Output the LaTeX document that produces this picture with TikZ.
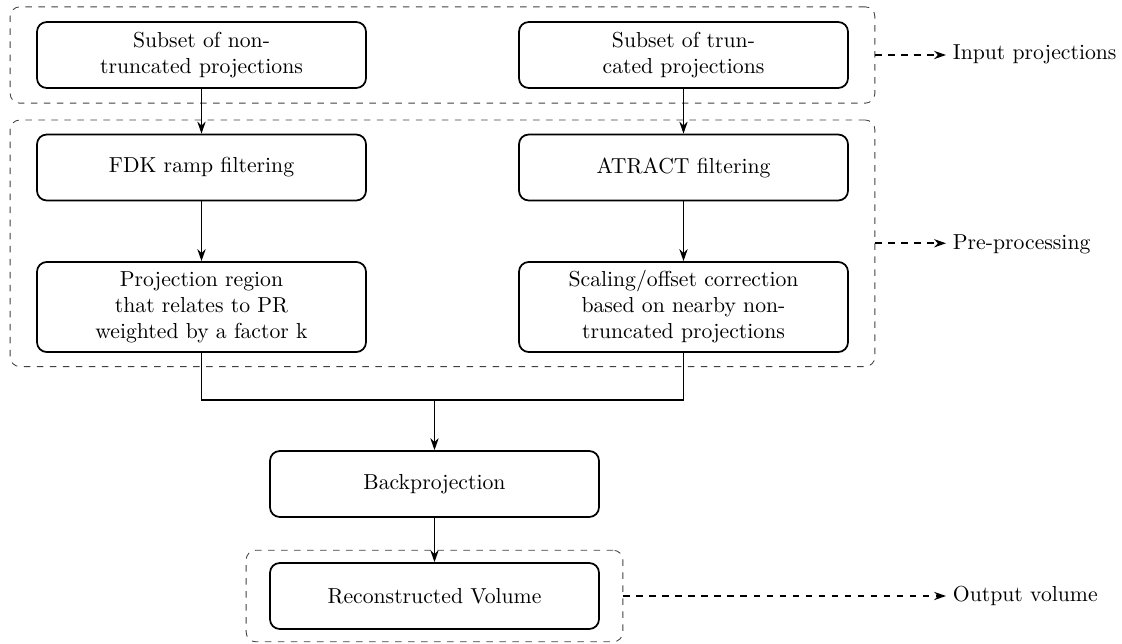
\documentclass[tikz,border=0pt]{standalone}
\usetikzlibrary{arrows.meta,fit,positioning}
\begin{document}
\begin{tikzpicture}[x=0.4608pt,y=-0.4608pt,
  procbox/.style={draw,line width=0.8pt,rounded corners=4.5pt,minimum width=151.6pt,
    minimum height=30.4pt,align=center,inner sep=2pt},
  groupbox/.style={draw,line width=0.4pt,dashed,rounded corners=4.5pt,draw=black!75},
  flow/.style={line width=0.8pt,-{Stealth[length=5.5pt,width=3.8pt]}},
  plainflow/.style={line width=0.8pt},
  labarrow/.style={line width=0.8pt,dashed,-{Stealth[length=5.5pt,width=3.8pt]}},
  lab/.style={anchor=west,inner sep=3pt}]
\useasboundingbox (0,0) rectangle (1122,643);

\node[procbox] (nt) at (201.5,55) {Subset of non-\\truncated projections};
\node[procbox] (tr) at (683.5,55) {Subset of trun-\\cated projections};
\node[procbox] (fdk) at (201.5,167.5) {FDK ramp filtering};
\node[procbox] (atr) at (683.5,167.5) {ATRACT filtering};
\node[procbox,minimum height=41.5pt] (pr) at (201.5,307) {Projection region\\that relates to PR\\weighted by a factor k};
\node[procbox,minimum height=41.5pt] (sc) at (683.5,307) {Scaling/offset correction\\based on nearby non-\\truncated projections};
\node[procbox] (bp) at (434.5,484) {Backprojection};
\node[procbox] (rv) at (434.5,596) {Reconstructed Volume};

\node[groupbox,fit=(nt)(tr),inner xsep=12pt,inner ysep=6.6pt] (inbox) {};
\node[groupbox,fit=(fdk)(sc),inner xsep=12pt,inner ysep=6.3pt] (prebox) {};
\node[groupbox,fit=(rv),inner xsep=10.6pt,inner ysep=5.5pt] (outbox) {};

\coordinate (merge) at (434.5,400);

\draw[flow] (nt) -- (fdk);
\draw[flow] (tr) -- (atr);
\draw[flow] (fdk) -- (pr);
\draw[flow] (atr) -- (sc);
\draw[plainflow] (pr.south) |- (merge);
\draw[plainflow] (sc.south) |- (merge);
\draw[flow] (merge) -- (bp.north);
\draw[flow] (bp) -- (rv);

\node[lab] (lin) at (946,54) {Input projections};
\node[lab] (lpre) at (946,244) {Pre-processing};
\node[lab] (lout) at (946,596) {Output volume};

\draw[labarrow] (inbox.east) -- (inbox.east -| lin.west);
\draw[labarrow] (prebox.east) -- (prebox.east -| lpre.west);
\draw[labarrow] (outbox.east) -- (outbox.east -| lout.west);
\end{tikzpicture}
\end{document}
